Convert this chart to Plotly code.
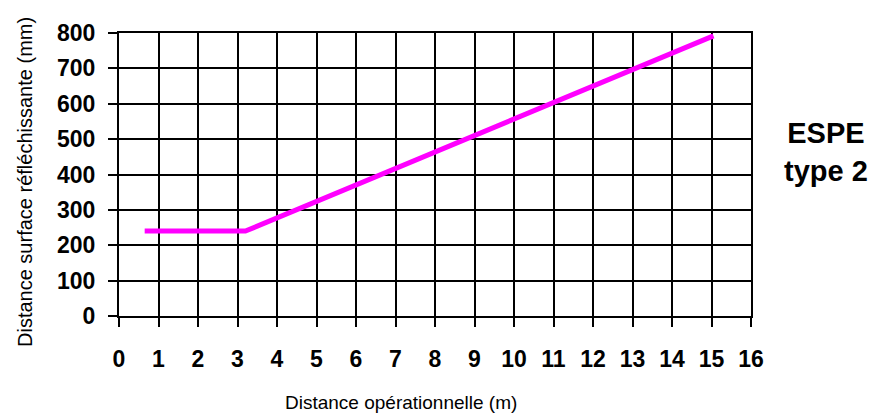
import plotly.graph_objects as go

x_vals = [0.65, 3.2, 15.05]
y_vals = [240, 240, 792]
x_ticks = list(range(0, 17))
y_ticks = list(range(0, 801, 100))

fig = go.Figure()
fig.add_trace(go.Scatter(x=x_vals, y=y_vals, mode="lines",
                         line=dict(color="#FF00FF", width=5), showlegend=False))

FONT = "Liberation Sans, Arial"
# page has an 8px body margin, so the figure is 8px smaller and shifted
fig.update_layout(
    width=868, height=407,
    margin=dict(l=111, r=125, t=25, b=99),
    plot_bgcolor="white", paper_bgcolor="white",
    font=dict(family=FONT, color="black"),
)
axis_common = dict(showgrid=True, gridcolor="black", gridwidth=2,
                   showline=True, linecolor="black", linewidth=2, mirror=True,
                   zeroline=True, zerolinecolor="black", zerolinewidth=2,
                   ticks="outside", ticklen=9, tickwidth=2, tickcolor="black",
                   automargin=False,
                   tickfont=dict(size=23, family=FONT, weight="bold"))
fig.update_xaxes(range=[0, 16], tickvals=x_ticks, ticklabelstandoff=12, **axis_common)
fig.update_yaxes(range=[0, 800], tickvals=y_ticks, ticklabelstandoff=8, **axis_common)

fig.add_annotation(text="Distance opérationnelle (m)", xref="paper", yref="paper",
                   x=(401 - 119) / 632, y=-(402 - 316) / 283, xanchor="center", yanchor="middle",
                   showarrow=False, font=dict(size=19, family=FONT))
fig.add_annotation(text="Distance surface réfléchissante (mm)", xref="paper", yref="paper",
                   x=-(119 - 25) / 632, y=(316 - 182) / 283, xanchor="center", yanchor="middle",
                   textangle=-90, showarrow=False, font=dict(size=20, family=FONT))
fig.add_annotation(text="<b>ESPE<br>type 2</b>", xref="paper", yref="paper",
                   x=(826 - 119) / 632, y=(316 - 152) / 283,
                   xanchor="center", yanchor="middle", showarrow=False,
                   font=dict(size=29, family=FONT), align="center")
fig.write_html("out.html")
